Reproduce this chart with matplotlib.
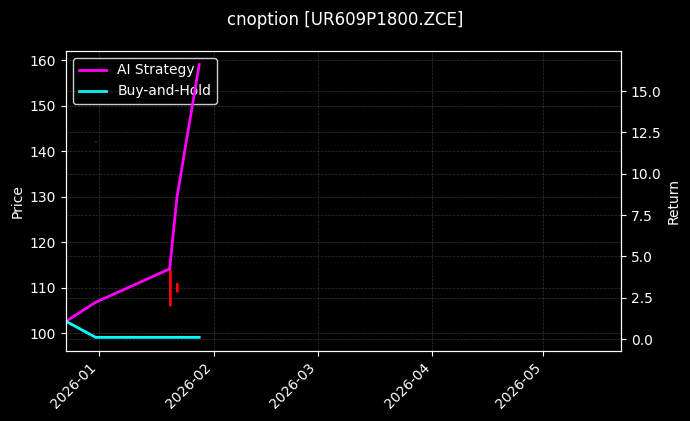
import numpy as np
import pandas as pd
import matplotlib
matplotlib.use('Agg')
import matplotlib.pyplot as plt
import matplotlib.dates as mdates

#===== data
ret_dates = pd.to_datetime(['2025-12-23', '2025-12-31', '2026-01-20', '2026-01-22', '2026-01-28'])
ai_strategy = [1.07, 2.22, 4.24, 8.6, 16.6]
buy_hold = [1.07, 0.1, 0.1, 0.1, 0.1]

candle_dates = pd.to_datetime(['2025-12-31', '2026-01-20', '2026-01-22'])
c_open = [142.2, 114.0, 111.0]
c_close = [142.0, 106.0, 109.1]
c_high = [142.3, 114.1, 111.1]
c_low = [141.9, 105.9, 109.0]
c_color = ['#2a2a2a', 'red', 'red']

title = 'cnoption [UR609P1800.ZCE]'

#===== plot
plt.style.use('dark_background')
fig = plt.figure(figsize=(6.9, 4.21), dpi=100)
ax = fig.add_axes([0.0957, 0.1663, 0.8043, 0.7126])
ax2 = ax.twinx()

# price candles
for d, o, c, h, l, col in zip(candle_dates, c_open, c_close, c_high, c_low, c_color):
    ax.vlines(d, l, h, color=col, linewidth=1.8)
    ax.bar(d, abs(c - o), bottom=min(o, c), width=0.6, color=col)

ax.set_ylim(96.1, 162.0)
ax.set_ylabel('Price')
ax.grid(True, linestyle='--', color='gray', alpha=0.4, linewidth=0.5)

# returns
ax2.plot(ret_dates, ai_strategy, color='#ff00ff', linewidth=2, label='AI Strategy')
ax2.plot(ret_dates, buy_hold, color='#00ffff', linewidth=2, label='Buy-and-Hold')
ax2.set_ylabel('Return')
ax2.grid(True, linestyle='--', color='gray', alpha=0.4, linewidth=0.5)

ax.set_xlim(pd.Timestamp('2025-12-23'), pd.Timestamp('2026-05-22'))
ax.xaxis.set_major_locator(mdates.MonthLocator())
ax.xaxis.set_major_formatter(mdates.DateFormatter('%Y-%m'))
plt.setp(ax.get_xticklabels(), rotation=45, ha='right')

h2, l2 = ax2.get_legend_handles_labels()
ax.legend(h2, l2, loc='upper left', edgecolor='white')

fig.suptitle(title, fontsize=12, y=0.975)
fig.savefig('out.png', dpi=100)
